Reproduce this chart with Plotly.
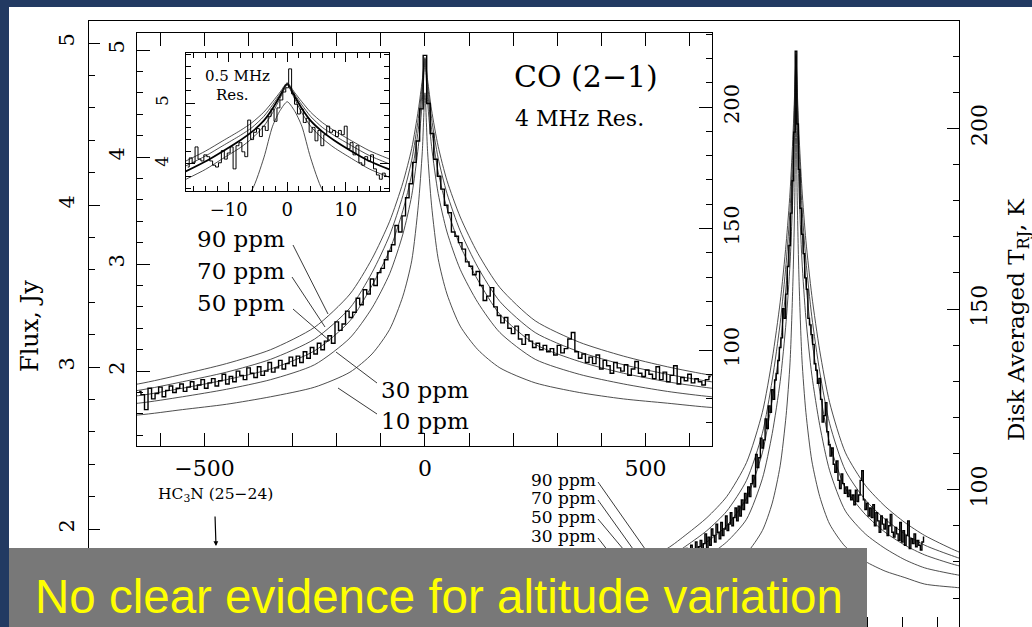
import plotly.graph_objects as go

W, H = 1032, 627
def px(x): return x / W
def py(y): return 1 - y / H

# ---------------- data ----------------
CO_GHZ = 230.538          # line centre of CO (2-1)
HC3N_GHZ = 227.419        # HC3N (25-24)
PPM_LEVELS = [90, 70, 50, 30, 10]

# model spectra (4 MHz resolution), offset from line centre in MHz, flux in Jy
MODEL_MHZ = [-900, -800, -650, -550, -450, -350, -250, -170, -120, -80, -50, -30, -15, -6, 0,
             6, 15, 30, 50, 80, 120, 170, 250, 350, 450, 550, 650, 800, 900]
MODEL_90 = [1.76, 1.80, 1.88, 1.97, 2.07, 2.20, 2.41, 2.72, 3.05, 3.40, 3.76, 4.08, 4.44, 4.72, 4.93,
            4.72, 4.44, 4.10, 3.78, 3.44, 3.10, 2.78, 2.47, 2.27, 2.14, 2.04, 1.96, 1.87, 1.82]
MODEL_70 = [1.73, 1.76, 1.82, 1.90, 1.99, 2.11, 2.30, 2.59, 2.92, 3.27, 3.64, 3.97, 4.36, 4.68, 4.92,
            4.68, 4.36, 3.99, 3.66, 3.31, 2.97, 2.65, 2.36, 2.18, 2.06, 1.97, 1.90, 1.83, 1.79]
MODEL_50 = [1.69, 1.72, 1.77, 1.84, 1.92, 2.02, 2.19, 2.47, 2.80, 3.13, 3.50, 3.84, 4.26, 4.62, 4.91,
            4.62, 4.26, 3.86, 3.52, 3.17, 2.85, 2.53, 2.25, 2.09, 1.98, 1.90, 1.84, 1.78, 1.75]
MODEL_30 = [1.64, 1.66, 1.70, 1.76, 1.83, 1.92, 2.06, 2.31, 2.59, 2.91, 3.28, 3.64, 4.10, 4.52, 4.88,
            4.52, 4.10, 3.66, 3.30, 2.95, 2.64, 2.36, 2.11, 1.97, 1.88, 1.81, 1.76, 1.72, 1.70]
MODEL_10 = [1.56, 1.57, 1.59, 1.64, 1.69, 1.76, 1.85, 1.99, 2.16, 2.39, 2.70, 3.03, 3.55, 4.05, 4.60,
            4.05, 3.55, 3.05, 2.72, 2.42, 2.20, 2.03, 1.89, 1.80, 1.74, 1.70, 1.66, 1.64, 1.63]

# observed spectrum, 8 MHz channels: left wing (-648..-8), centre, right wing (8..648)
SPEC_STEP_MHZ = 8
SPEC_LEFT = [1.81, 1.78, 1.64, 1.84, 1.74, 1.79, 1.85, 1.76, 1.82, 1.86, 1.80, 1.84, 1.88, 1.81,
             1.85, 1.90, 1.83, 1.87, 1.92, 1.84, 1.89, 1.93, 1.86, 1.91, 1.97, 1.88, 1.95, 1.90,
             2.00, 1.96, 1.92, 2.03, 1.98, 1.94, 2.04, 1.96, 2.00, 2.08, 1.99, 2.03, 2.10, 2.02,
             2.07, 2.13, 2.05, 2.14, 2.08, 2.18, 2.12, 2.22, 2.16, 2.26, 2.20, 2.28, 2.33, 2.26,
             2.46, 2.38, 2.44, 2.56, 2.50, 2.55, 2.68, 2.62, 2.76, 2.72, 2.86, 2.80, 2.92, 2.96,
             3.04, 3.12, 3.18, 3.36, 3.30, 3.45, 3.62, 3.75, 3.95, 4.15, 4.45]
SPEC_CENTRE = 4.95
SPEC_RIGHT = [4.50, 4.22, 3.98, 3.82, 3.70, 3.55, 3.48, 3.30, 3.26, 3.20, 3.14, 3.02, 2.98, 2.90,
              2.93, 2.80, 2.66, 2.70, 2.78, 2.60, 2.52, 2.45, 2.50, 2.40, 2.35, 2.42, 2.30, 2.25,
              2.34, 2.28, 2.22, 2.26, 2.20, 2.24, 2.18, 2.21, 2.15, 2.24, 2.17, 2.21, 2.30, 2.36,
              2.18, 2.12, 2.16, 2.08, 2.13, 2.07, 2.15, 2.02, 2.10, 2.05, 1.98, 2.08, 2.03, 2.00,
              2.06, 1.96, 2.02, 2.09, 1.98, 1.95, 2.01, 1.97, 1.93, 2.04, 1.92, 1.99, 1.90, 1.96,
              2.05, 1.88, 1.94, 1.91, 1.97, 1.89, 1.93, 1.90, 1.87, 1.92, 1.95]

# 0.5 MHz resolution close-up
INNER_MHZ = [-17.5, -14, -11, -8, -6, -4, -2.5, -1.2, 0, 1.2, 2.5, 4, 6, 8, 11, 14, 17.5]
INNER_90 = [4.04, 4.21, 4.38, 4.55, 4.68, 4.85, 5.02, 5.18, 5.33, 5.18, 5.02, 4.85, 4.68, 4.55, 4.38, 4.22, 4.08]
INNER_70 = [3.96, 4.13, 4.30, 4.47, 4.60, 4.78, 4.97, 5.15, 5.32, 5.15, 4.97, 4.78, 4.60, 4.47, 4.30, 4.14, 4.00]
INNER_50 = [3.87, 4.04, 4.21, 4.39, 4.53, 4.71, 4.91, 5.12, 5.31, 5.12, 4.91, 4.71, 4.53, 4.39, 4.21, 4.05, 3.91]
INNER_30 = [3.74, 3.91, 4.09, 4.27, 4.42, 4.62, 4.84, 5.08, 5.30, 5.08, 4.84, 4.62, 4.42, 4.27, 4.09, 3.92, 3.78]
INNER_10 = [3.20, 3.25, 3.30, 3.38, 3.58, 4.10, 4.62, 4.88, 5.02, 4.88, 4.62, 4.10, 3.58, 3.38, 3.30, 3.25, 3.20]
INNER_STEP_MHZ = 0.5
INNER_SPEC_LEFT = [3.95, 4.10, 4.02, 4.28, 4.08, 4.05, 4.15, 4.12, 4.05, 3.98, 3.95, 4.02, 4.22, 4.08,
                   4.18, 4.28, 3.92, 4.30, 4.35, 4.20, 4.12, 4.72, 4.40, 4.52, 4.58, 4.45, 4.62, 4.55,
                   4.78, 4.90, 4.70, 4.92, 5.05, 5.18]
INNER_SPEC_CENTRE = 5.25
INNER_SPEC_RIGHT = [5.56, 5.15, 4.98, 4.82, 4.90, 4.68, 4.75, 4.52, 4.60, 4.38, 4.55, 4.30, 4.48, 4.62,
                    4.52, 4.55, 4.45, 4.55, 4.48, 4.62, 4.25, 4.35, 4.15, 4.30, 4.02, 3.98, 4.12, 4.05,
                    4.15, 3.92, 3.82, 3.75, 3.85, 3.80]

FLUX_TICKS = [2, 3, 4, 5]
TB_TICKS = [100, 150, 200]
INSET_X_TICKS = [-500, 0, 500]
INNER_X_TICKS = [-10, 0, 10]
INNER_Y_TICKS = [4, 5]

# ---------------- derived ----------------
MODELS = [MODEL_90, MODEL_70, MODEL_50, MODEL_30, MODEL_10]
INNER_MODELS = [INNER_90, INNER_70, INNER_50, INNER_30, INNER_10]

spec_x = ([-(len(SPEC_LEFT) - i) * SPEC_STEP_MHZ for i in range(len(SPEC_LEFT))] + [0]
          + [(i + 1) * SPEC_STEP_MHZ for i in range(len(SPEC_RIGHT))])
spec_y = SPEC_LEFT + [SPEC_CENTRE] + SPEC_RIGHT
inner_x = ([-(len(INNER_SPEC_LEFT) - i) * INNER_STEP_MHZ for i in range(len(INNER_SPEC_LEFT))] + [0]
           + [(i + 1) * INNER_STEP_MHZ for i in range(len(INNER_SPEC_RIGHT))])
inner_y = INNER_SPEC_LEFT + [INNER_SPEC_CENTRE] + INNER_SPEC_RIGHT

def ghz(mhz_list):
    return [CO_GHZ + m / 1000.0 for m in mhz_list]

fig = go.Figure()
MODEL_LINE = dict(color="#3a3a3a", width=0.9, shape="spline", smoothing=0.7)
SPEC_LINE = dict(color="black", width=1.4, shape="hvh")

# main panel
for m in MODELS:
    fig.add_trace(go.Scatter(x=ghz(MODEL_MHZ), y=m, mode="lines", line=MODEL_LINE,
                             xaxis="x", yaxis="y", hoverinfo="skip"))
fig.add_trace(go.Scatter(x=ghz(spec_x), y=spec_y, mode="lines", line=SPEC_LINE,
                         xaxis="x", yaxis="y", hoverinfo="skip"))
# invisible anchors so the brightness-temperature axes are drawn
fig.add_trace(go.Scatter(x=[CO_GHZ], y=[TB_TICKS[1]], mode="markers", marker=dict(opacity=0),
                         xaxis="x", yaxis="y2", hoverinfo="skip"))
# 4 MHz inset
for m in MODELS:
    fig.add_trace(go.Scatter(x=MODEL_MHZ, y=m, mode="lines", line=MODEL_LINE,
                             xaxis="x2", yaxis="y3", hoverinfo="skip"))
fig.add_trace(go.Scatter(x=spec_x, y=spec_y, mode="lines", line=SPEC_LINE,
                         xaxis="x2", yaxis="y3", hoverinfo="skip"))
fig.add_trace(go.Scatter(x=[0], y=[TB_TICKS[1]], mode="markers", marker=dict(opacity=0),
                         xaxis="x2", yaxis="y4", hoverinfo="skip"))
# 0.5 MHz inset
for i, m in enumerate(INNER_MODELS):
    lw = 1.8 if i == 2 else 0.9
    col = "black" if i == 2 else "#3a3a3a"
    fig.add_trace(go.Scatter(x=INNER_MHZ, y=m, mode="lines",
                             line=dict(color=col, width=lw, shape="spline", smoothing=0.7),
                             xaxis="x3", yaxis="y5", hoverinfo="skip"))
fig.add_trace(go.Scatter(x=inner_x, y=inner_y, mode="lines",
                         line=dict(color="black", width=1.0, shape="hvh"),
                         xaxis="x3", yaxis="y5", hoverinfo="skip"))

SERIF = "DejaVu Serif"
def tf(size):
    return dict(family=SERIF, size=size, color="black")

common = dict(showgrid=False, zeroline=False, showline=True, linecolor="black", linewidth=1.3,
              ticks="inside", tickcolor="black", tickwidth=1.2)

main_x = [px(89), px(959)]
main_y = [0, py(21)]
inset_x = [px(137), px(712)]
inset_y = [py(446), py(33)]
inner_xd = [px(186), px(389)]
inner_yd = [py(191), py(53)]
MAIN_PX_PER_GHZ = 198.0
MAIN_CENTRE_PX = 796

fig.update_layout(
    width=W, height=H, margin=dict(l=0, r=0, t=0, b=0),
    paper_bgcolor="white", plot_bgcolor="white", showlegend=False,
    xaxis=dict(domain=main_x, anchor="y",
               range=[CO_GHZ - (MAIN_CENTRE_PX - 89) / MAIN_PX_PER_GHZ, CO_GHZ + (959 - MAIN_CENTRE_PX) / MAIN_PX_PER_GHZ],
               mirror=True, tick0=CO_GHZ + (902 - MAIN_CENTRE_PX) / MAIN_PX_PER_GHZ, dtick=35 / MAIN_PX_PER_GHZ,
               ticklen=10, showticklabels=False, **common),
    yaxis=dict(domain=main_y, anchor="x", range=[1.395, 5.136], tickvals=FLUX_TICKS, ticklen=11,
               minor=dict(dtick=0.2, ticklen=6, ticks="inside", tickcolor="black"),
               tickangle=-90, tickfont=tf(21), ticklabelstandoff=5, **common),
    yaxis2=dict(overlaying="y", side="right", anchor="x", range=[62.0, 229.7], tickvals=TB_TICKS,
                ticklen=12, minor=dict(dtick=10, ticklen=6, ticks="inside", tickcolor="black"),
                tickangle=-90, tickfont=tf(22), ticklabelstandoff=0, **common),
    xaxis2=dict(domain=inset_x, anchor="y3", range=[-653, 651], tickvals=INSET_X_TICKS, ticklen=13,
                minor=dict(dtick=100, ticklen=6, ticks="inside", tickcolor="black"),
                mirror="allticks", tickfont=tf(22), ticklabelstandoff=2, **common),
    yaxis3=dict(domain=inset_y, anchor="x2", range=[1.30, 5.159], tickvals=FLUX_TICKS, ticklen=13,
                minor=dict(dtick=0.2, ticklen=6, ticks="inside", tickcolor="black"),
                tickangle=-90, tickfont=tf(21), ticklabelstandoff=3, **common),
    yaxis4=dict(overlaying="y3", side="right", anchor="x2", range=[60.5, 230.5], tickvals=TB_TICKS,
                ticklen=13, minor=dict(dtick=10, ticklen=6, ticks="inside", tickcolor="black"),
                tickangle=-90, tickfont=tf(21), ticklabelstandoff=1, **common),
    xaxis3=dict(domain=inner_xd, anchor="y5", range=[-17.3, 17.4], tickvals=INNER_X_TICKS, ticklen=9,
                minor=dict(dtick=2, ticklen=5, ticks="inside", tickcolor="black"),
                mirror="allticks", tickfont=tf(18), ticklabelstandoff=2, **common),
    yaxis5=dict(domain=inner_yd, anchor="x3", range=[3.557, 5.82], tickvals=INNER_Y_TICKS, ticklen=9,
                minor=dict(dtick=0.2, ticklen=5, ticks="inside", tickcolor="black"),
                mirror="allticks", tickangle=-90, tickfont=tf(17), ticklabelstandoff=10, **common),
)

ann = []
def text(x, y, s, size, xanchor="center", family=SERIF, color="black", angle=0):
    ann.append(dict(x=px(x), y=py(y), xref="paper", yref="paper", text=s, showarrow=False,
                    xanchor=xanchor, yanchor="middle", textangle=angle,
                    font=dict(family=family, size=size, color=color)))

text(30, 326, "Flux, Jy", 24, angle=-90)
text(1018, 320, "Disk Averaged T<sub>RJ</sub>, K", 23, angle=-90)
text(512, 77, "CO (2\u22121)", 30, xanchor="left")
text(513, 118, "4 MHz Res.", 22, xanchor="left")
text(237, 76, "0.5 MHz", 15)
text(232, 95, "Res.", 15)
inset_lbl = [(241, 239), (241, 271), (241, 303), (425, 390), (425, 421)]
for (lx, ly), lev in zip(inset_lbl, PPM_LEVELS):
    text(lx, ly, f"{lev} ppm", 23)
main_lbl = [(563, 480), (563, 498), (563, 517), (563, 536)]
for (lx, ly), lev in zip(main_lbl, PPM_LEVELS[:4]):
    text(lx, ly, f"{lev} ppm", 17)
text(215, 495, "HC<sub>3</sub>N (25\u221224)", 15.5)
ann.append(dict(x=px(216), y=py(546), xref="paper", yref="paper", ax=-1, ay=-31,
                showarrow=True, arrowhead=2, arrowsize=0.8, arrowwidth=1.2, arrowcolor="black", text=""))

shapes = []
def seg(x0, y0, x1, y1, w=0.9):
    shapes.append(dict(type="line", xref="paper", yref="paper", x0=px(x0), y0=py(y0), x1=px(x1), y1=py(y1),
                       line=dict(color="#222", width=w)))
seg(293, 245, 328, 314)
seg(292, 277, 325, 327)
seg(293, 309, 330, 341)
seg(377, 383, 336, 352)
seg(377, 414, 338, 388)
seg(598, 482, 650, 556)
seg(598, 500, 638, 556)
seg(598, 519, 629, 556)
seg(598, 538, 612, 556)

# slide decorations
shapes.append(dict(type="rect", xref="paper", yref="paper", x0=px(9), x1=px(867), y0=py(627), y1=py(548),
                   fillcolor="#787878", line=dict(width=0), layer="above"))
shapes.append(dict(type="rect", xref="paper", yref="paper", x0=0, x1=1, y0=py(7), y1=1,
                   fillcolor="#223a62", line=dict(width=0), layer="above"))
shapes.append(dict(type="rect", xref="paper", yref="paper", x0=0, x1=px(9), y0=0, y1=1,
                   fillcolor="#223a62", line=dict(width=0), layer="above"))
text(33, 596, "No clear evidence for altitude variation", 47.5, xanchor="left",
     family="Liberation Sans, Arial, sans-serif", color="#ffff00")

fig.update_layout(annotations=ann, shapes=shapes)
fig.write_html("out.html")
